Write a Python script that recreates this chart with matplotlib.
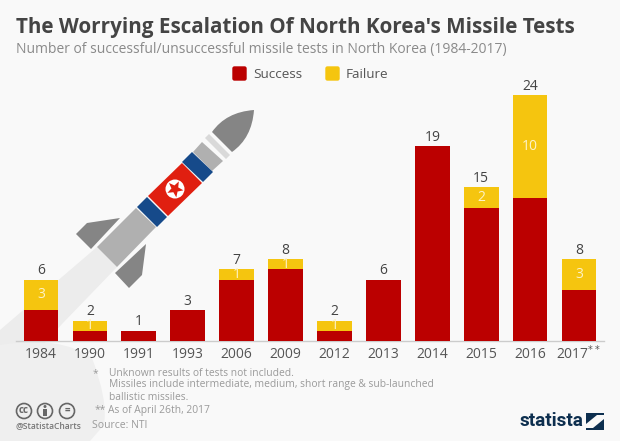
#!/usr/bin/env python3
"""North Korea missile tests, stacked bars with the rocket drawn behind them."""
import matplotlib
matplotlib.use('Agg')
import matplotlib.pyplot as plt
import numpy as np
from matplotlib.patches import Circle, Polygon, PathPatch, Rectangle, FancyBboxPatch
from matplotlib.path import Path
from matplotlib.transforms import ScaledTranslation

YEARS = ['1984', '1990', '1991', '1993', '2006', '2009',
         '2012', '2013', '2014', '2015', '2016', r'2017$^{**}$']
SUCCESS = [3, 1, 1, 3, 6, 7, 1, 6, 19, 13, 14, 5]
FAILURE = [3, 1, 0, 0, 1, 1, 1, 0, 0, 2, 10, 3]

RED = '#bb0000'
YELLOW = '#f5c50f'
BG = '#f9f9f9'
W, H = 620, 441

plt.rcParams['font.family'] = ['Open Sans', 'DejaVu Sans']

fig = plt.figure(figsize=(W / 100, H / 100), dpi=100, facecolor=BG)

# overlay in pixel coordinates for the artwork and page text
bg = fig.add_axes([0, 0, 1, 1])
bg.set_xlim(0, W)
bg.set_ylim(H, 0)
bg.axis('off')


def poly(pts, color, z=2):
    bg.add_patch(Polygon(pts, closed=True, facecolor=color, edgecolor='none', zorder=z))


# exhaust trail and cloud
poly([(97, 247), (117, 267), (62, 324), (0, 392), (0, 330)], '#ececec', 1)
cloud = Path([(0, 345), (60, 335), (92, 358), (108, 400), (104, 425), (90, 441), (0, 441), (0, 345)],
             [Path.MOVETO, Path.CURVE3, Path.LINETO, Path.CURVE3, Path.LINETO, Path.LINETO, Path.LINETO, Path.CLOSEPOLY])
bg.add_patch(PathPatch(cloud, facecolor='#efefef', edgecolor='none', zorder=1))

# rocket
nose = Path([(254, 110), (226, 112), (212, 132), (232, 152), (252, 138), (254, 110), (254, 110)],
            [Path.MOVETO, Path.CURVE3, Path.CURVE3, Path.LINETO, Path.CURVE3, Path.CURVE3, Path.CLOSEPOLY])
bg.add_patch(PathPatch(nose, facecolor='#858585', edgecolor='none', zorder=2))
poly([(205, 138), (209, 134), (230, 155), (226, 159)], '#d9d9d9')
poly([(202, 142), (223, 161), (212, 171), (193, 152)], '#b0b0b0')
poly([(192, 152), (213, 172), (203, 182), (182, 162)], '#164a8a')
poly([(182, 163), (202, 183), (168, 216), (148, 196)], '#e01f10')
poly([(147, 197), (167, 217), (157, 227), (137, 207)], '#164a8a')
poly([(136, 208), (156, 227), (117, 267), (97, 247)], '#b0b0b0')
poly([(120, 218), (87, 223), (76, 234), (91, 249)], '#858585')
poly([(146, 244), (115, 273), (129, 288), (142, 275)], '#858585')
bg.add_patch(Circle((175, 189), 9.5, facecolor='white', edgecolor='none', zorder=3))
ang = np.deg2rad(-90 + 36 * np.arange(10) - 45)
rad = np.where(np.arange(10) % 2 == 0, 8.5, 3.6)
poly(np.column_stack([175 + rad * np.cos(ang), 189 + rad * np.sin(ang)]), '#e01f10', 4)

# titles
bg.text(16, 27, "The Worrying Escalation Of North Korea's Missile Tests", fontsize=14.9,
        fontweight='bold', color='#444444', va='center', zorder=5)
bg.text(16, 49, 'Number of successful/unsuccessful missile tests in North Korea (1984-2017)',
        fontsize=10.03, color='#8a8a8a', va='center', zorder=5)

# legend
for x, col, lab in [(232, RED, 'Success'), (325, YELLOW, 'Failure')]:
    bg.add_patch(FancyBboxPatch((x + 1, 67), 13, 13, boxstyle='round,pad=0,rounding_size=1.5',
                                facecolor=col, edgecolor=col, linewidth=1, zorder=5))
    bg.text(x + 21, 74, lab, fontsize=9.7, color='#555555', va='center', zorder=5)

# footer notes
note = dict(fontsize=7.35, color='#9a9a9a', va='center', zorder=5)
bg.text(93, 374, '*', **note)
bg.text(109, 373, 'Unknown results of tests not included.', **note)
bg.text(109, 385, 'Missiles include intermediate, medium, short range & sub-launched', **note)
bg.text(109, 397, 'ballistic missiles.', **note)
bg.text(95, 410, '**', **note)
bg.text(108, 410, 'As of April 26th, 2017', **note)
bg.text(92, 426, 'Source: NTI', fontsize=7.5, color='#9a9a9a', va='center', zorder=5)
bg.text(16, 426, '@StatistaCharts', fontsize=6.1, color='#777777', fontweight='semibold',
        va='center', zorder=5)

# licence icons
for x, s in [(24, 'cc'), (45, ''), (67, '=')]:
    bg.add_patch(Circle((x, 411), 7.5, facecolor='none', edgecolor='#666666', linewidth=1.2, zorder=5))
    if s:
        bg.text(x, 410.5, s, fontsize=7, fontweight='bold', color='#666666',
                ha='center', va='center', zorder=5)
bg.add_patch(Circle((45, 406.5), 1.5, facecolor='#666666', edgecolor='none', zorder=5))
bg.add_patch(Rectangle((43.2, 409), 3.6, 7, facecolor='#666666', edgecolor='none', zorder=5))

# logo
bg.text(519, 421, 'statista', fontsize=13.7, fontweight='bold', color='#0d2f4f',
        va='center', zorder=5, family=['Roboto', 'DejaVu Sans'])
poly([(586, 413), (604, 413), (604, 430), (586, 430)], '#0d2f4f', 5)
poly([(586, 424), (597, 415), (604, 415), (604, 419), (593, 428), (586, 428)], BG, 6)

# chart
ax = fig.add_axes([16.5 / W, 1 - 341 / H, 587 / W, 246 / H])
ax.patch.set_visible(False)
x = np.arange(len(YEARS))
ax.bar(x, SUCCESS, width=0.71, color=RED, zorder=3)
ax.bar(x, FAILURE, width=0.71, bottom=SUCCESS, color=YELLOW, zorder=3)
ax.set_xlim(-0.5, len(YEARS) - 0.5)
ax.set_ylim(0, 24)

for i, (s, f) in enumerate(zip(SUCCESS, FAILURE)):
    ax.annotate(str(s + f), (i, s + f), xytext=(0, 1), textcoords='offset points',
                ha='center', va='bottom', fontsize=10, color='#444444', zorder=4)
    if f:
        ax.text(i, s + f / 2, str(f), ha='center', va='center', fontsize=10,
                color='#fdf3c8', zorder=4)

ax.set_xticks(x, YEARS)
# baseline alignment, the mathtext asterisks would push the last label down otherwise
ax.tick_params(axis='x', length=0, pad=12, labelsize=10, labelcolor='#555555')
labels = ax.get_xticklabels()
for lab in labels:
    lab.set_verticalalignment('baseline')
# mathtext baseline sits a touch high
labels[-1].set_transform(labels[-1].get_transform()
                         + ScaledTranslation(0, -1.5 / 100, fig.dpi_scale_trans))
ax.set_yticks([])
for side in ['top', 'right', 'left']:
    ax.spines[side].set_visible(False)
ax.spines['bottom'].set_color('#cccccc')
ax.spines['bottom'].set_linewidth(1)

fig.savefig('out.png', dpi=100, facecolor=BG)
plt.close(fig)
